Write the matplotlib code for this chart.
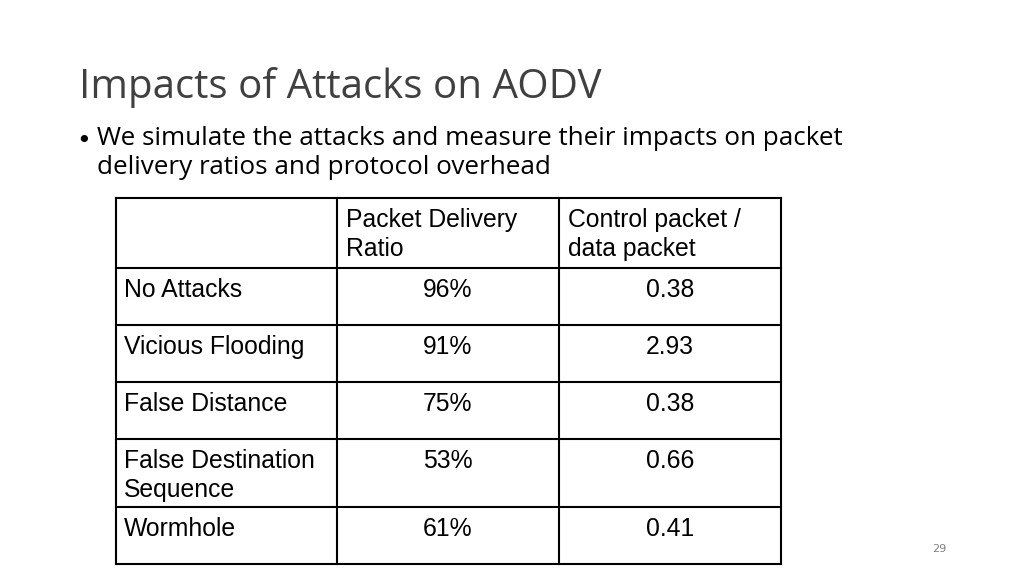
import matplotlib.pyplot as plt
from matplotlib.lines import Line2D

title = "Impacts of Attacks on AODV"
bullet = ("We simulate the attacks and measure their impacts on packet\n"
          "delivery ratios and protocol overhead")
headers = ["", "Packet Delivery\nRatio", "Control packet /\ndata packet"]
attacks = ["No Attacks", "Vicious Flooding", "False Distance",
           "False Destination\nSequence", "Wormhole"]
delivery = ["96%", "91%", "75%", "53%", "61%"]
overhead = ["0.38", "2.93", "0.38", "0.66", "0.41"]
page = "29"

# table geometry in pixels
col_x = [116, 337, 559, 781]
row_y = [198, 268, 325, 382, 439, 507, 564]

fig = plt.figure(figsize=(10.24, 5.76), dpi=100)
ax = fig.add_axes([0, 0, 1, 1])
ax.set_xlim(0, 1024)
ax.set_ylim(576, 0)
ax.axis("off")

ax.text(79, 87, title, fontsize=29, family="Open Sans", color="#404040",
        va="center", ha="left")
ax.text(76, 141, "\u2022", fontsize=18, family="DejaVu Sans", va="center")
ax.text(97, 126, bullet, fontsize=18.7, family="Open Sans", va="top",
        linespacing=1.2, ha="left")

for x in col_x:
    ax.add_line(Line2D([x, x], [row_y[0], row_y[-1]], color="black", lw=1.5))
for y in row_y:
    ax.add_line(Line2D([col_x[0], col_x[-1]], [y, y], color="black", lw=1.5))

kw = dict(fontsize=17.8, family="Liberation Sans", va="top", linespacing=1.25)
for j, h in enumerate(headers):
    if h:
        ax.text(col_x[j] + 9, row_y[0] + 10, h, ha="left", **kw)
for i, name in enumerate(attacks):
    top = row_y[i + 1] + 10
    ax.text(col_x[0] + 8, top, name, ha="left", **kw)
    ax.text((col_x[1] + col_x[2]) / 2, top, delivery[i], ha="center", **kw)
    ax.text((col_x[2] + col_x[3]) / 2, top, overhead[i], ha="center", **kw)

ax.text(939, 549, page, fontsize=8, color="#808080", ha="center", va="center")

fig.savefig("out.png", dpi=100)
